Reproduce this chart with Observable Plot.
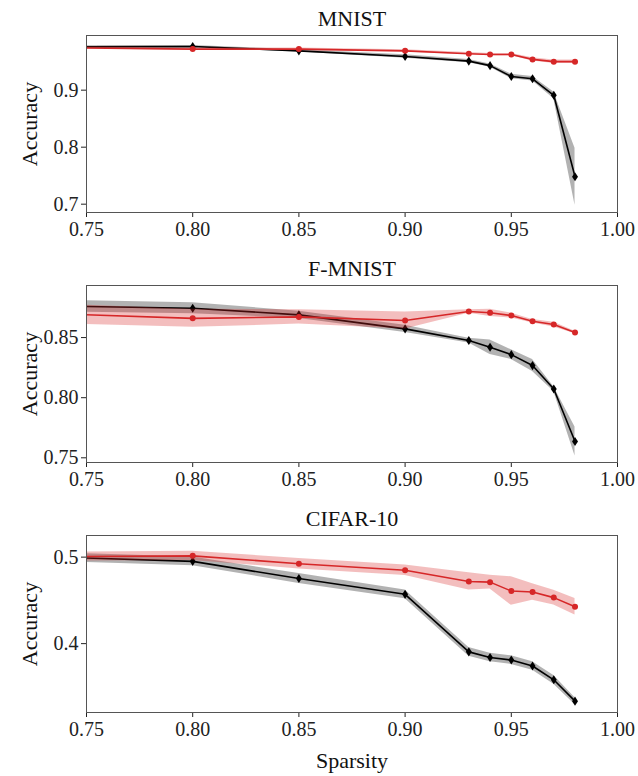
<!DOCTYPE html>
<html>
<head>
<meta charset="utf-8">
<script src="https://cdn.jsdelivr.net/npm/d3@7"></script>
<script src="https://cdn.jsdelivr.net/npm/@observablehq/plot@0.6"></script>
<style>
  html, body { margin: 0; padding: 0; background: #fff; }
  #chart { width: 638px; }
  #chart svg { display: block; }
  #chart svg text { font-family: 'Liberation Serif', 'DejaVu Serif', serif !important; }
</style>
</head>
<body>
<div id="chart"></div>
<script>
// ---- data ----
const sparsity = [0.7, 0.8, 0.85, 0.9, 0.93, 0.94, 0.95, 0.96, 0.97, 0.98];
const xTicks = [0.75, 0.80, 0.85, 0.90, 0.95, 1.00];
const titles = ["MNIST", "F-MNIST", "CIFAR-10"];

// MNIST
const mnistBlack    = [0.9755, 0.9765, 0.969, 0.959, 0.951, 0.943, 0.924, 0.920, 0.891, 0.748];
const mnistBlackStd = [0.002, 0.002, 0.002, 0.003, 0.003, 0.003, 0.004, 0.004, 0.006, 0.050];
const mnistRed      = [0.976, 0.972, 0.972, 0.969, 0.964, 0.9625, 0.9625, 0.954, 0.950, 0.950];
const mnistRedStd   = [0.002, 0.002, 0.002, 0.002, 0.002, 0.002, 0.002, 0.003, 0.003, 0.003];
const mnistYTicks   = [0.7, 0.8, 0.9];

// F-MNIST
const fmnistBlack    = [0.8772, 0.8744, 0.8689, 0.8572, 0.8475, 0.8419, 0.8358, 0.8267, 0.8072, 0.7636];
const fmnistBlackStd = [0.005, 0.0045, 0.003, 0.003, 0.002, 0.006, 0.004, 0.005, 0.002, 0.012];
const fmnistRed      = [0.8718, 0.866, 0.8672, 0.8642, 0.8717, 0.8706, 0.8683, 0.8636, 0.8608, 0.8542];
const fmnistRedStd   = [0.0085, 0.0075, 0.006, 0.007, 0.0015, 0.003, 0.002, 0.0015, 0.002, 0.001];
const fmnistYTicks   = [0.75, 0.80, 0.85];

// CIFAR-10
const cifarBlack    = [0.5027, 0.4951, 0.4753, 0.457, 0.3905, 0.384, 0.381, 0.3741, 0.3582, 0.3335];
const cifarBlackStd = [0.005, 0.005, 0.0057, 0.005, 0.005, 0.005, 0.005, 0.005, 0.005, 0.004];
const cifarRed      = [0.500, 0.5015, 0.4924, 0.4848, 0.4719, 0.4711, 0.4608, 0.4597, 0.4532, 0.4426];
const cifarRedStd   = [0.005, 0.0053, 0.006, 0.006, 0.010, 0.008, 0.0165, 0.0095, 0.0085, 0.0095];
const cifarYTicks   = [0.4, 0.5];

// ---- drawing ----
const RED = "#d62728";
const FONT = "'Liberation Serif', 'DejaVu Serif', serif";

const thinDiamond = {
  draw(ctx, size) {
    const r = Math.sqrt(size / Math.PI);
    ctx.moveTo(0, -r * 1.3);
    ctx.lineTo(r * 0.85, 0);
    ctx.lineTo(0, r * 1.3);
    ctx.lineTo(-r * 0.85, 0);
    ctx.closePath();
  }
};

function rows(y, s) {
  return sparsity.map((x, i) => ({x, y: y[i], lo: y[i] - s[i], hi: y[i] + s[i]}));
}

function panel({title, black, blackStd, red, redStd, yDomain, yTicks, yFmt, height, marginBottom, xLabel}) {
  const b = rows(black, blackStd);
  const r = rows(red, redStd);
  const marks = [
    Plot.areaY(b, {x: "x", y1: "lo", y2: "hi", fill: "black", fillOpacity: 0.3, clip: true}),
    Plot.line(b, {x: "x", y: "y", stroke: "black", strokeWidth: 1.6, clip: true}),
    Plot.dot(b, {x: "x", y: "y", symbol: thinDiamond, r: 3.5, fill: "black", stroke: "none", clip: true}),
    Plot.areaY(r, {x: "x", y1: "lo", y2: "hi", fill: RED, fillOpacity: 0.3, clip: true}),
    Plot.line(r, {x: "x", y: "y", stroke: RED, strokeWidth: 1.6, clip: true}),
    Plot.dot(r, {x: "x", y: "y", r: 3, fill: RED, stroke: "none", clip: true}),
    Plot.frame({stroke: "#555", strokeWidth: 1}),
    Plot.text([title], {frameAnchor: "top", lineAnchor: "middle", textAnchor: "middle", dy: -17, fontSize: 22, fill: "#111"}),
    Plot.text(["Accuracy"], {frameAnchor: "left", lineAnchor: "middle", textAnchor: "middle", dx: -57, rotate: -90, fontSize: 22, fill: "#111"})
  ];
  if (xLabel) marks.push(Plot.text([xLabel], {frameAnchor: "bottom", lineAnchor: "middle", textAnchor: "middle", dy: 48, fontSize: 22, fill: "#111"}));
  return Plot.plot({
    width: 638,
    height,
    marginLeft: 86,
    marginRight: 21,
    marginTop: 35,
    marginBottom,
    style: {fontFamily: FONT, fontSize: "20px", color: "#222", background: "white"},
    x: {domain: [0.75, 1.0], ticks: xTicks, tickFormat: d3.format(".2f"), tickSize: 5, tickPadding: 4, label: null},
    y: {domain: yDomain, ticks: yTicks, tickFormat: d3.format(yFmt), tickSize: 5, tickPadding: 3, label: null},
    marks
  });
}

const chart = document.getElementById("chart");
chart.append(panel({
  title: titles[0], black: mnistBlack, blackStd: mnistBlackStd, red: mnistRed, redStd: mnistRedStd,
  yDomain: [0.6854, 0.9959], yTicks: mnistYTicks, yFmt: ".1f", height: 250, marginBottom: 38
}));
chart.append(panel({
  title: titles[1], black: fmnistBlack, blackStd: fmnistBlackStd, red: fmnistRed, redStd: fmnistRedStd,
  yDomain: [0.7461, 0.8933], yTicks: fmnistYTicks, yFmt: ".2f", height: 250, marginBottom: 38
}));
chart.append(panel({
  title: titles[2], black: cifarBlack, blackStd: cifarBlackStd, red: cifarRed, redStd: cifarRedStd,
  yDomain: [0.3204, 0.525], yTicks: cifarYTicks, yFmt: ".1f", height: 276, marginBottom: 64, xLabel: "Sparsity"
}));
</script>
</body>
</html>
